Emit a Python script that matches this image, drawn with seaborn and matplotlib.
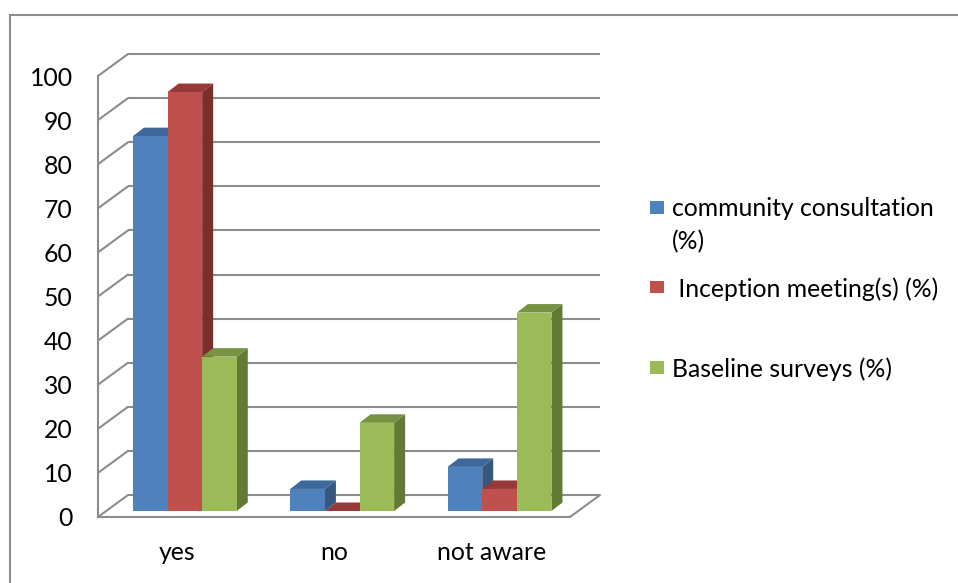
import matplotlib
matplotlib.use("Agg")
import matplotlib.pyplot as plt
import matplotlib.transforms as mtransforms
from matplotlib.patches import Polygon, Rectangle
import pandas as pd
import seaborn as sns

# ---- data -------------------------------------------------------------
categories = ["yes", "no", "not aware"]
series = ["community consultation\n(%)", " Inception meeting(s) (%)", "Baseline surveys (%)"]
community = [85, 5, 10]
inception = [95, 0, 5]
baseline = [35, 20, 45]
yticks = list(range(0, 101, 10))

front_colors = ["#4F81BD", "#C0504D", "#9BBB59"]
top_colors = ["#3E689A", "#953A38", "#789243"]
side_colors = ["#36587F", "#7C2E2C", "#637A34"]
line_gray = "#8C8C8C"

df = pd.DataFrame({
    "category": categories * 3,
    "series": [series[0]] * 3 + [series[1]] * 3 + [series[2]] * 3,
    "value": community + inception + baseline,
})

# ---- figure -----------------------------------------------------------
W, H, DPI = 958, 583, 100
sns.set_style("white")
plt.rcParams["font.family"] = ["Lato", "DejaVu Sans"]
FS = 17.8

fig = plt.figure(figsize=(W / DPI, H / DPI), dpi=DPI)
# front plane of the 3-D box, in pixels: x 98..570, y 517 (0) .. 76 (100)
ax = fig.add_axes([98 / W, (H - 517) / H, 472 / W, 441 / H])
ax.set_xlim(-0.5, 2.5)
ax.set_ylim(0, 100)

px_x = 3 / 472      # data units per pixel, horizontal
px_y = 100 / 441    # data units per pixel, vertical

# depth of the box (back wall offset) and of each column
wall_dx, wall_dy = 30 * px_x, 22 * px_y
bar_dx, bar_dy = 11 * px_x, 8.5 * px_y
# columns stand in the middle of the floor depth
bar_off = mtransforms.ScaledTranslation(8.2 / DPI, 6 / DPI, fig.dpi_scale_trans)

# back wall gridlines and side-wall diagonals
for v in yticks:
    ax.plot([-0.5 + wall_dx, 2.5 + wall_dx], [v + wall_dy, v + wall_dy],
            color=line_gray, lw=1.5, clip_on=False, zorder=1,
            solid_capstyle="butt")
    ax.plot([-0.5, -0.5 + wall_dx], [v, v + wall_dy],
            color=line_gray, lw=1.5, clip_on=False, zorder=1)
# right edge of the floor
ax.plot([2.5, 2.5 + wall_dx], [0, wall_dy], color=line_gray, lw=1.5,
        clip_on=False, zorder=1)

# front faces of the columns
sns.barplot(data=df, x="category", y="value", hue="series",
            hue_order=series, order=categories, palette=front_colors,
            width=0.66, saturation=1, legend=False, ax=ax, zorder=3)

bars = sorted(ax.patches, key=lambda p: p.get_x())
color_of = {}
for s, c in enumerate(front_colors):
    color_of[matplotlib.colors.to_hex(c)] = s

for i, p in enumerate(bars):
    x0 = p.get_x()
    x1 = x0 + p.get_width()
    h = p.get_height()
    s = color_of[matplotlib.colors.to_hex(p.get_facecolor())]
    z = 3 + i * 0.01
    tr = ax.transData + bar_off
    p.set_transform(tr)
    p.set_edgecolor("none")
    p.set_clip_on(False)
    p.set_zorder(z + 0.005)
    side = Polygon([(x1, 0), (x1 + bar_dx, bar_dy), (x1 + bar_dx, h + bar_dy), (x1, h)],
                   closed=True, facecolor=side_colors[s], edgecolor="none",
                   transform=tr, zorder=z, clip_on=False)
    top = Polygon([(x0, h), (x1, h), (x1 + bar_dx, h + bar_dy), (x0 + bar_dx, h + bar_dy)],
                  closed=True, facecolor=top_colors[s], edgecolor="none",
                  transform=tr, zorder=z + 0.002, clip_on=False)
    ax.add_patch(side)
    ax.add_patch(top)

# axes: front floor edge and left vertical axis
for name, sp in ax.spines.items():
    if name in ("left", "bottom"):
        sp.set_color(line_gray)
        sp.set_linewidth(1.5)
        sp.set_zorder(2)
    else:
        sp.set_visible(False)
ax.set_facecolor("none")

ax.set_yticks(yticks)
ax.set_yticklabels([str(v) for v in yticks])
ax.tick_params(axis="y", direction="out", length=5.8, width=1.4,
               color=line_gray, labelsize=FS, pad=12.5, labelcolor="black")

ax.set_xticks([-0.5, 0.5, 1.5, 2.5])
ax.set_xticklabels([])
ax.set_xticks([0, 1, 2], minor=True)
ax.set_xticklabels(categories, minor=True)
ax.tick_params(axis="x", which="major", direction="out", length=4.5,
               width=1.4, color=line_gray)
ax.tick_params(axis="x", which="minor", length=0, labelsize=FS, pad=17.5,
               labelcolor="black")
ax.set_xlabel("")
ax.set_ylabel("")

# legend
leg_y = [207, 287, 367]
for s, (lab, yy) in enumerate(zip(series, leg_y)):
    fig.add_artist(Rectangle((650 / W, 1 - (yy + 6.5) / H), 14 / W, 13 / H,
                             transform=fig.transFigure,
                             facecolor=front_colors[s], edgecolor="none"))
    fig.text(672 / W, 1 - (yy - 10) / H, lab, ha="left", va="top",
             fontsize=FS, color="black", linespacing=1.52)

# chart-area border
fig.add_artist(Rectangle((10 / W, -0.2), 1.5, 1.2 - 15 / H,
                         transform=fig.transFigure, fill=False,
                         edgecolor=line_gray, lw=1.5))

fig.savefig("out.png", dpi=DPI, facecolor="white")
